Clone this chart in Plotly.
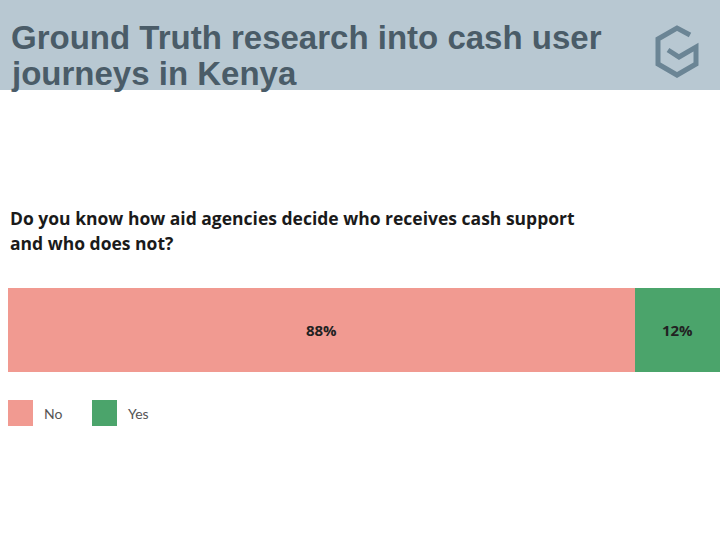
import plotly.graph_objects as go

W, H = 720, 540
title_lines = ["Ground Truth research into cash user", "journeys in Kenya"]
question_lines = ["Do you know how aid agencies decide who receives cash support", "and who does not?"]
categories = ["No", "Yes"]
values = [88, 12]
colors = ["#f19a91", "#4ba46b"]

def px(x):
    return x / W

def py(y):
    return 1 - y / H

fig = go.Figure()
for cat, val, col in zip(categories, values, colors):
    fig.add_trace(go.Bar(
        x=[val], y=["q"], orientation="h", name=cat,
        marker=dict(color=col, line=dict(width=0)),
        text=[f"<b>{val}%</b>"], textposition="inside", insidetextanchor="middle",
        textfont=dict(family="Open Sans", size=15, color="#222222"),
        showlegend=False, hoverinfo="skip",
    ))

shapes = []
annotations = []
# header band
shapes.append(dict(type="rect", xref="paper", yref="paper", x0=0, x1=1, y0=py(90), y1=1,
                   fillcolor="#b8c8d2", line=dict(width=0), layer="below"))
for i, t in enumerate(title_lines):
    annotations.append(dict(text=f"<b>{t}</b>", xref="paper", yref="paper", x=px(9), y=py(37 + i * 36),
                            xanchor="left", yanchor="middle", showarrow=False,
                            font=dict(family="Liberation Sans", size=33, color="#4a5c68")))
# logo
logo_pts = [(690, 35), (677, 28), (658, 39), (658, 64), (677, 75), (696, 64), (696, 47), (679, 57), (668, 50)]
path = "M " + " L ".join(f"{px(x)},{py(y)}" for x, y in logo_pts)
shapes.append(dict(type="path", xref="paper", yref="paper", path=path,
                   line=dict(color="#6b8595", width=5), fillcolor="rgba(0,0,0,0)"))
# question
for i, t in enumerate(question_lines):
    annotations.append(dict(text=f"<b>{t}</b>", xref="paper", yref="paper", x=px(8), y=py(218 + i * 25),
                            xanchor="left", yanchor="middle", showarrow=False,
                            font=dict(family="Open Sans", size=17.5, color="#1a1a1a")))
# legend
lx = [8, 92]
for cat, col, x0 in zip(categories, colors, lx):
    shapes.append(dict(type="rect", xref="paper", yref="paper", x0=px(x0), x1=px(x0 + 25),
                       y0=py(426), y1=py(400), fillcolor=col, line=dict(width=0)))
    annotations.append(dict(text=cat, xref="paper", yref="paper", x=px(x0 + 34), y=py(413),
                            xanchor="left", yanchor="middle", showarrow=False,
                            font=dict(family="Lato", size=14, color="#555555")))

fig.update_layout(
    width=W, height=H, margin=dict(l=0, r=0, t=0, b=0),
    paper_bgcolor="white", plot_bgcolor="white",
    barmode="stack", bargap=0,
    xaxis=dict(range=[0, 100], domain=[px(8), 1], visible=False, fixedrange=True),
    yaxis=dict(domain=[py(372), py(288)], visible=False, range=[-0.5, 0.5]),
    shapes=shapes, annotations=annotations, uniformtext=dict(mode=False),
)
fig.write_html("out.html")
